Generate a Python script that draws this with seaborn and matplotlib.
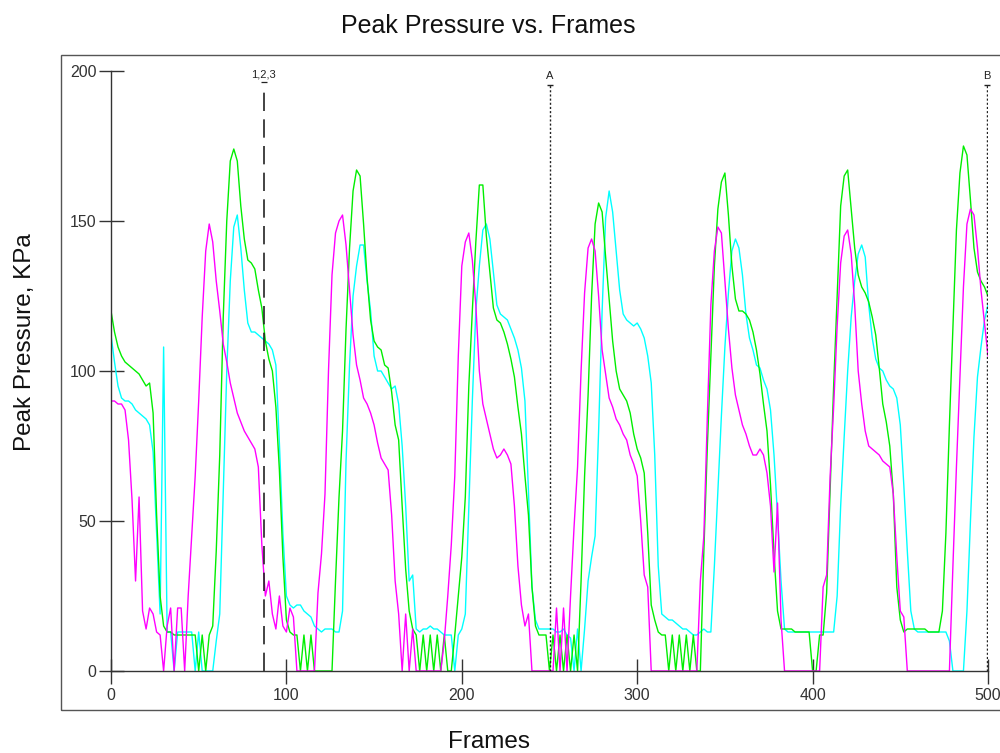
import matplotlib
matplotlib.use("Agg")
import matplotlib.pyplot as plt
import pandas as pd
import seaborn as sns
from matplotlib.patches import Rectangle

# Peak pressure per sensor, sampled every 2 frames (0..500)
frames = list(range(0, 501, 2))

sensor_1 = [  # magenta
    90, 90, 89, 89, 87, 77, 57, 30, 58, 20,
    14, 21, 19, 13, 12, 0, 15, 21, 0, 21,
    21, 0, 25, 45, 65, 90, 118, 140, 149, 143,
    130, 120, 109, 103, 96, 91, 86, 83, 80, 78,
    76, 74, 68, 42, 25, 30, 19, 14, 25, 15,
    13, 21, 18, 0, 0, 0, 0, 0, 0, 26,
    39, 59, 100, 132, 146, 150, 152, 142, 127, 112,
    102, 97, 91, 89, 86, 82, 76, 71, 69, 67,
    52, 30, 19, 0, 19, 0, 14, 0, 0, 0,
    0, 0, 0, 0, 0, 10, 25, 42, 65, 105,
    135, 143, 146, 137, 122, 100, 89, 84, 79, 74,
    71, 72, 74, 72, 69, 55, 35, 22, 15, 19,
    0, 0, 0, 0, 0, 0, 0, 21, 0, 21,
    0, 25, 48, 68, 100, 126, 141, 144, 140, 125,
    107, 99, 91, 88, 84, 82, 79, 77, 72, 69,
    65, 50, 32, 28, 0, 0, 0, 0, 0, 0,
    0, 0, 0, 0, 0, 0, 0, 0, 30, 45,
    85, 122, 140, 148, 146, 130, 114, 101, 92, 87,
    82, 79, 75, 72, 72, 74, 72, 66, 55, 33,
    56, 17, 0, 0, 0, 0, 0, 0, 0, 0,
    0, 0, 0, 28, 32, 65, 88, 115, 136, 145,
    147, 139, 122, 100, 89, 80, 75, 74, 73, 72,
    70, 69, 68, 59, 38, 20, 18, 0, 0, 0,
    0, 0, 0, 0, 0, 0, 0, 0, 0, 0,
    35, 68, 98, 128, 149, 154, 152, 141, 127, 116,
    105,
]

sensor_2 = [  # green
    120, 113, 108, 105, 103, 102, 101, 100, 99, 97,
    95, 96, 86, 52, 25, 15, 13, 13, 12, 12,
    12, 12, 12, 12, 12, 0, 12, 0, 12, 15,
    40, 72, 118, 150, 170, 174, 170, 155, 144, 137,
    136, 134, 127, 121, 110, 104, 100, 88, 67, 38,
    17, 13, 12, 12, 0, 12, 0, 12, 0, 0,
    0, 0, 0, 0, 30, 58, 80, 114, 141, 160,
    167, 165, 149, 131, 117, 110, 108, 107, 102, 101,
    93, 82, 77, 55, 34, 20, 14, 12, 0, 12,
    0, 12, 0, 12, 0, 12, 0, 0, 12, 25,
    38, 58, 95, 120, 143, 162, 162, 145, 133, 121,
    117, 116, 113, 109, 104, 98, 88, 79, 65, 52,
    28, 15, 12, 12, 12, 0, 12, 0, 12, 0,
    12, 0, 12, 0, 30, 65, 92, 125, 149, 156,
    153, 138, 124, 110, 100, 94, 92, 90, 86, 79,
    74, 71, 66, 46, 22, 17, 13, 12, 12, 0,
    12, 0, 12, 0, 12, 0, 12, 0, 0, 40,
    75, 105, 135, 154, 163, 166, 152, 135, 124, 120,
    120, 119, 117, 113, 107, 99, 89, 80, 62, 39,
    20, 14, 14, 14, 14, 13, 13, 13, 13, 13,
    0, 0, 12, 12, 26, 60, 95, 125, 155, 165,
    167, 154, 141, 132, 128, 126, 123, 118, 112, 101,
    89, 83, 75, 59, 28, 17, 13, 14, 14, 14,
    14, 14, 14, 13, 13, 13, 13, 20, 46, 82,
    115, 147, 166, 175, 172, 157, 141, 133, 130, 128,
    125,
]

sensor_3 = [  # cyan
    112, 103, 95, 91, 90, 90, 89, 87, 86, 85,
    84, 82, 73, 46, 19, 108, 13, 13, 0, 13,
    13, 13, 13, 13, 0, 13, 0, 0, 0, 0,
    10, 19, 59, 100, 130, 148, 152, 141, 127, 116,
    113, 113, 112, 111, 110, 109, 107, 102, 76, 46,
    25, 22, 21, 22, 22, 20, 19, 18, 15, 14,
    13, 14, 14, 14, 13, 13, 20, 70, 102, 125,
    135, 142, 142, 130, 120, 105, 100, 100, 98, 96,
    94, 95, 89, 75, 55, 30, 32, 14, 13, 14,
    14, 15, 14, 14, 13, 12, 12, 12, 0, 12,
    14, 19, 55, 90, 120, 135, 147, 149, 144, 133,
    122, 119, 118, 117, 114, 111, 107, 101, 90, 60,
    28, 17, 14, 14, 14, 14, 14, 13, 13, 14,
    12, 11, 0, 14, 0, 14, 30, 38, 45, 80,
    120, 151, 160, 153, 140, 127, 119, 117, 116, 115,
    116, 114, 111, 105, 96, 72, 35, 19, 18, 17,
    17, 16, 15, 14, 14, 13, 12, 12, 13, 14,
    13, 13, 35, 60, 85, 108, 126, 140, 144, 141,
    132, 119, 111, 107, 102, 101, 97, 94, 87, 72,
    52, 30, 14, 13, 13, 13, 13, 13, 13, 13,
    13, 13, 13, 13, 13, 13, 13, 25, 55, 78,
    100, 118, 130, 139, 142, 138, 122, 111, 104, 101,
    100, 97, 95, 94, 91, 82, 62, 40, 20, 14,
    13, 13, 13, 13, 13, 13, 13, 13, 13, 10,
    0, 0, 0, 0, 20, 50, 78, 98, 108, 117,
    122,
]

sensor_names = ["1", "2", "3"]
sensor_colors = {"1": "#ff00ff", "2": "#00ee00", "3": "#00ffff"}

x_ticks = [0, 100, 200, 300, 400, 500]
y_ticks = [0, 50, 100, 150, 200]

# Cursor markers along the frame axis
cursor_frames = [87, 250, 499.5]
cursor_labels = ["1,2,3", "A", "B"]

df = pd.DataFrame({
    "Frame": frames * 3,
    "Pressure": sensor_1 + sensor_2 + sensor_3,
    "Sensor": [n for n in sensor_names for _ in frames],
})

sns.set_theme(style="white")
plt.rcParams["font.family"] = ["Liberation Sans", "DejaVu Sans"]

W, H = 1000, 753
fig = plt.figure(figsize=(W / 100, H / 100), dpi=100)
ax = fig.add_axes([111 / W, 1 - 671 / H, 877 / W, 600 / H])

sns.lineplot(
    data=df, x="Frame", y="Pressure", hue="Sensor",
    hue_order=["3", "2", "1"], palette=sensor_colors,
    estimator=None, linewidth=1.0, legend=False, ax=ax,
)

ax.set_xlim(0, 500)
ax.set_ylim(0, 200)
ax.set_xticks(x_ticks)
ax.set_yticks(y_ticks)

ink = "#333333"
for side in ("top", "right"):
    ax.spines[side].set_visible(False)
for side in ("left", "bottom"):
    ax.spines[side].set_color(ink)
    ax.spines[side].set_linewidth(1.0)

ax.tick_params(axis="both", bottom=True, left=True, direction="inout",
               length=18, width=1.0, color=ink, labelsize=11.5,
               labelcolor=ink)
ax.tick_params(axis="x", pad=3)
ax.tick_params(axis="y", pad=1.5)

ax.set_xlabel("Frames", fontsize=17.5, color="#111111")
ax.xaxis.set_label_coords((489 - 111) / 877, (671 - 731) / 600)
ax.set_ylabel("Peak Pressure, KPa", fontsize=17.5, color="#111111")
ax.yaxis.set_label_coords((36 - 111) / 877, (671 - 342) / 600)

ax.set_title("Peak Pressure vs. Frames", fontsize=18, color="#111111",
             x=(488 - 111) / 877, y=(671 - 33) / 600, pad=0)

# Cursors: first one dashed, the lettered ones dotted with a small cap
cursor_ink = "#222222"
for frame, label in zip(cursor_frames, cursor_labels):
    if label == "1,2,3":
        ax.vlines(frame, 0, 193.8, colors=cursor_ink, linewidth=1.2,
                  linestyles=[(0, (11, 5))])
        ax.text(frame, 198.7, label, ha="center", va="center",
                fontsize=8, color=cursor_ink)
        ax.plot(frame, 196.2, marker="_", markersize=4.5,
                markeredgewidth=0.9, color=cursor_ink)
    else:
        ax.vlines(frame, 0, 195.2, colors=cursor_ink, linewidth=1.0,
                  linestyles=[(0, (1.5, 1.5))])
        ax.plot(frame, 195.2, marker="_", markersize=5,
                markeredgewidth=1.0, color=cursor_ink, clip_on=False)
        ax.text(frame, 198.4, label, ha="center", va="center",
                fontsize=8, color=cursor_ink)

# Outer frame around the plot area
fig.add_artist(Rectangle((61 / W, 1 - 710 / H), 1.0, (710 - 55) / H,
                         transform=fig.transFigure, fill=False,
                         edgecolor="#555555", linewidth=1.0))

fig.savefig("out.png", dpi=100)
